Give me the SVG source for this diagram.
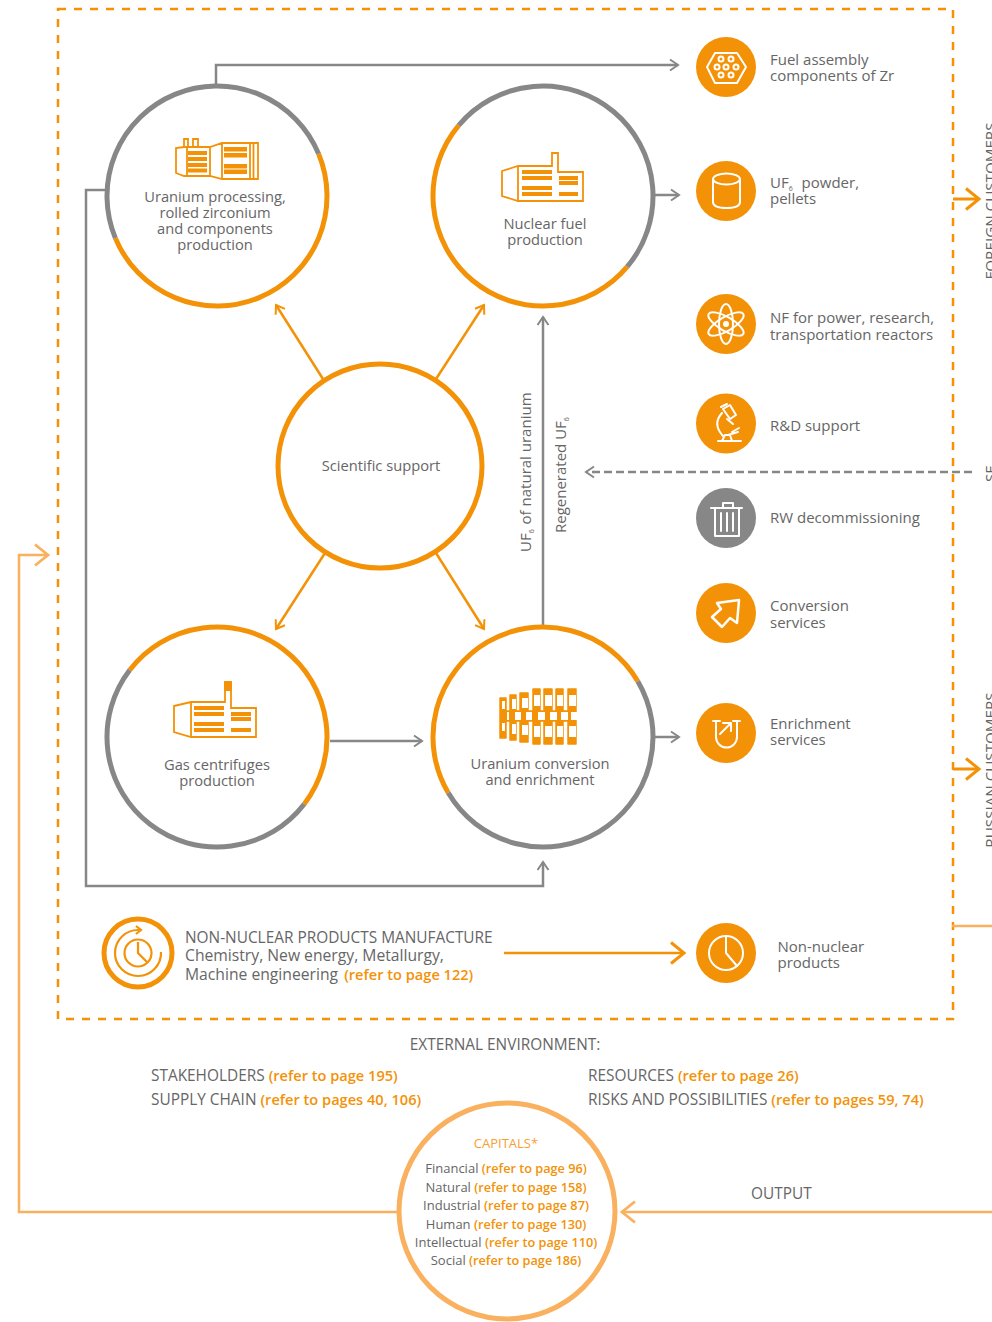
<svg xmlns="http://www.w3.org/2000/svg" width="992" height="1322" viewBox="0 0 992 1322">
<defs>
<style>
text{font-family:"Open Sans","Noto Sans","Liberation Sans",sans-serif;fill:#666;font-size:14.7px}
.m{text-anchor:middle}
.r{font-size:15px}
.u{font-size:15.4px}
.b{font-weight:600;fill:#f39207;font-size:14.6px}
.l{fill:#f7a035}
.c{font-size:13px}
.c .b{font-size:12.700px}
.s{font-size:7px}
.g{fill:none;stroke:#878787;stroke-width:2.5}
.o{fill:none;stroke:#f39207;stroke-width:2.5}
.lo{fill:none;stroke:#fab15f;stroke-width:2.5}
.ra{fill:none;stroke:#878787;stroke-width:5;stroke-dasharray:180 180}
.rb{fill:none;stroke:#f39207;stroke-width:5;stroke-dasharray:180 180}
.w{fill:none;stroke:#fff;stroke-width:2;stroke-linejoin:round;stroke-linecap:round}
.i{fill:none;stroke:#f39207;stroke-width:1.8}
.f{fill:#f39207}
</style>
<marker id="ag" markerUnits="userSpaceOnUse" markerWidth="14" markerHeight="14" refX="11" refY="7" orient="auto"><path d="M3 1.5L11 7L3 12.5" fill="none" stroke="#878787" stroke-width="2"/></marker>
<marker id="ao" markerUnits="userSpaceOnUse" markerWidth="14" markerHeight="14" refX="11" refY="7" orient="auto"><path d="M3 1.5L11 7L3 12.5" fill="none" stroke="#f39207" stroke-width="2"/></marker>
<marker id="aO" markerUnits="userSpaceOnUse" markerWidth="18" markerHeight="26" refX="15" refY="13" orient="auto"><path d="M2 2.5L15 13L2 23.5" fill="none" stroke="#f39207" stroke-width="3"/></marker>
<marker id="al" markerUnits="userSpaceOnUse" markerWidth="18" markerHeight="26" refX="15" refY="13" orient="auto"><path d="M2 2.5L15 13L2 23.5" fill="none" stroke="#fab15f" stroke-width="2.8"/></marker>
</defs>
<rect width="992" height="1322" fill="#fff"/>
<rect id="frame" x="58" y="9" width="895" height="1010" fill="none" stroke="#f39207" stroke-width="2.5" stroke-dasharray="8 8"/>

<g id="connectors">
<path class="g" d="M216 84V65H678" marker-end="url(#ag)"/>
<path class="g" d="M105 190H86V886H543V862" marker-end="url(#ag)"/>
<path class="g" d="M655 195H679" marker-end="url(#ag)"/>
<path class="g" d="M543 625V317" marker-end="url(#ag)"/>
<path class="g" d="M330 741H422" marker-end="url(#ag)"/>
<path class="g" d="M655 737H679" marker-end="url(#ag)"/>
<path class="g" d="M972 472H586" stroke-dasharray="8 4" marker-end="url(#ag)"/>
<path class="o" d="M323 379L276 305" marker-end="url(#ao)"/>
<path class="o" d="M436 379L484 305" marker-end="url(#ao)"/>
<path class="o" d="M325 553L276 629" marker-end="url(#ao)"/>
<path class="o" d="M436 553L484 629" marker-end="url(#ao)"/>
<path class="o" d="M504 953H684" marker-end="url(#aO)"/>
<path class="o" style="stroke-width:3" d="M953 199H979" marker-end="url(#aO)"/>
<path class="o" style="stroke-width:3" d="M953 769H979" marker-end="url(#aO)"/>
<path class="lo" d="M952 926H992"/>
<path class="lo" d="M992 1212H622" marker-end="url(#al)"/>
<path class="lo" d="M399 1212H19V555H48" marker-end="url(#al)"/>
</g>

<g id="uranium-processing">
<circle cx="217" cy="196" r="110" fill="#fff"/>
<circle class="rb" cx="217" cy="196" r="110" pathLength="360" transform="rotate(337.500 217 196)"/>
<circle class="ra" cx="217" cy="196" r="110" pathLength="360" transform="rotate(157.500 217 196)"/>
<path class="i" d="M176 148V173L184 176H210L222 179H258V143H222L210 147H184ZM184 147V139H188V147M193 147V139H198V147M187 147V176M210 147V176M222 143V179M250 143V179M253.500 143V179"/>
<path class="f" d="M188 151h19v4h-19zM188 157h19v4h-19zM188 163h19v4h-19zM188 168.500h19v4h-19zM224 147h23v4.500h-23zM224 153h23v4.500h-23zM224 164h23v4.500h-23zM224 169.500h23v4.500h-23z"/>
<text class="m" x="215" y="202">Uranium processing,</text>
<text class="m" x="215" y="218">rolled zirconium</text>
<text class="m" x="215" y="234">and components</text>
<text class="m" x="215" y="250">production</text>
</g>

<g id="nuclear-fuel">
<circle cx="543" cy="196" r="110" fill="#fff"/>
<circle class="rb" cx="543" cy="196" r="110" pathLength="360" transform="rotate(40 543 196)"/>
<circle class="ra" cx="543" cy="196" r="110" pathLength="360" transform="rotate(-140 543 196)"/>
<path class="i" d="M502 171L518 166H552V153H558V172H583V201H518L502 196ZM518 166V201"/>
<path class="f" d="M522 170h30v4h-30zM522 176h30v4h-30zM522 186h30v4h-30zM522 192h30v4h-30zM559 176h19v4h-19zM559 181h19v4h-19zM559 192h19v4h-19z"/>
<text class="m" x="545" y="229">Nuclear fuel</text>
<text class="m" x="545" y="245">production</text>
</g>

<g id="gas-centrifuges">
<circle cx="217" cy="737" r="110" fill="#fff"/>
<circle class="rb" cx="217" cy="737" r="110" pathLength="360" transform="rotate(217.500 217 737)"/>
<circle class="ra" cx="217" cy="737" r="110" pathLength="360" transform="rotate(37.500 217 737)"/>
<path class="i" d="M174 706L191 702H225V682H231V708H256V737H191L174 732ZM191 702V737"/>
<path class="f" d="M224 682h8v9h-8zM194 706h30v4h-30zM194 712h30v4h-30zM194 722h30v4h-30zM194 728h30v4h-30zM231 712h20v4h-20zM231 717h20v4h-20zM231 728h20v4h-20z"/>
<text class="m" x="217" y="770">Gas centrifuges</text>
<text class="m" x="217" y="786">production</text>
</g>

<g id="uranium-conversion">
<circle cx="543" cy="737" r="110" fill="#fff"/>
<circle class="rb" cx="543" cy="737" r="110" pathLength="360" transform="rotate(149.500 543 737)"/>
<circle class="ra" cx="543" cy="737" r="110" pathLength="360" transform="rotate(-30.500 543 737)"/>
<path class="f" stroke="#f39207" stroke-width="1.500" stroke-linejoin="round" d="M500 698h6v40h-6zM510 695h6v45h-6zM520 693h8v49h-8zM533 689h7v55h-7zM544 689h8v55h-8zM556 689h7v55h-7zM568 689h8v55h-8zM505 711h64v10h-64z"/>
<path d="M502 701h3v8h-3zM512 699h4v10h-4zM522 698h6v10h-6zM534 695h6v11h-6zM545 695h7v11h-7zM557 695h6v11h-6zM569 695h7v11h-7zM507 712h2v8h-2zM515 712h6v8h-6zM526 712h6v8h-6zM538 712h7v8h-7zM550 712h7v8h-7zM561 712h7v8h-7zM571 712h6v8h-6zM502 723h3v8h-3zM512 724h4v10h-4zM522 725h6v10h-6zM534 726h6v11h-6zM545 726h7v11h-7zM557 726h6v11h-6zM569 726h7v11h-7z" fill="#fff"/>
<text class="m" x="540" y="769">Uranium conversion</text>
<text class="m" x="540" y="785">and enrichment</text>
</g>

<g id="scientific-support">
<circle cx="380" cy="466" r="102" fill="#fff" stroke="#f39207" stroke-width="5"/>
<text class="m" x="381" y="471">Scientific support</text>
</g>

<g id="labels-vertical">
<text class="r" transform="translate(531 552) rotate(-90)">UF<tspan class="s" dy="3">6</tspan><tspan dy="-3" dx="1"> of natural uranium</tspan></text>
<text class="r" transform="translate(566 533) rotate(-90)">Regenerated UF<tspan class="s" dy="3">6</tspan></text>
</g>

<g id="fuel-assembly">
<circle class="f" cx="726" cy="67" r="30"/>
<path class="w" d="M707 67L715 53H737L746 67L737 83H715Z"/>
<g class="w" style="stroke-width:2"><circle cx="726" cy="67" r="2.500"/><circle cx="717" cy="67" r="2.500"/><circle cx="736" cy="67" r="2.500"/><circle cx="721" cy="59" r="2.500"/><circle cx="731" cy="59" r="2.500"/><circle cx="721" cy="75" r="2.500"/><circle cx="731" cy="75" r="2.500"/></g>
<text class="r" x="770" y="65">Fuel assembly</text><text class="r" x="770" y="81">components of Zr</text>
</g>
<g id="uf6-powder">
<circle class="f" cx="726" cy="191" r="30"/>
<path class="w" d="M713 180V202Q713 208 726.500 208T740 202V180"/><ellipse class="w" cx="726.500" cy="179" rx="13.500" ry="5.500"/>
<text class="r" x="770" y="188">UF<tspan class="s" dy="3">6</tspan><tspan dy="-3" dx="5"> powder,</tspan></text><text class="r" x="770" y="204">pellets</text>
</g>
<g id="nf-reactors">
<circle class="f" cx="726" cy="324" r="30"/>
<g class="w"><ellipse cx="726" cy="324" rx="7" ry="20"/><ellipse cx="726" cy="324" rx="7" ry="20" transform="rotate(60 726 324)"/><ellipse cx="726" cy="324" rx="7" ry="20" transform="rotate(-60 726 324)"/></g>
<circle cx="726" cy="324" r="3" fill="#fff"/>
<text class="r" x="770" y="323">NF for power, research,</text><text class="r" x="770" y="340">transportation reactors</text>
</g>
<g id="rd-support">
<circle class="f" cx="726" cy="423.500" r="30"/>
<path class="w" d="M718 441H741M722 441L725 435H730L732 441M723 436Q712 424 722 413M721 407L727 404M723 409L730 405L736 415L730 419ZM727 419L733 424M732 432L739 428M728 435L738 432"/>
<text class="r" x="770" y="431">R&amp;D support</text>
</g>
<g id="rw-decommissioning">
<circle cx="726" cy="518" r="30" fill="#878787"/>
<path class="w" d="M711 508H742M723 508V503H733V508M715 508V536H739V508M721 513V531M727 513V531M733 513V531"/>
<text class="r" x="770" y="523">RW decommissioning</text>
</g>
<g id="conversion-services">
<circle class="f" cx="726" cy="613" r="30"/>
<path class="w" style="stroke-width:2.500" d="M717 603L739 600L737 623L730 618L722 627L712 617L721 609Z"/>
<text class="r" x="770" y="611">Conversion</text><text class="r" x="770" y="628">services</text>
</g>
<g id="enrichment-services">
<circle class="f" cx="726" cy="733" r="30"/>
<path class="w" d="M713 721H720M733 721H740M716 721V737A10.500 10.500 0 0 0 737 737V721M720 734L731 723M723 723H731V731"/>
<text class="r" x="770" y="729">Enrichment</text><text class="r" x="770" y="745">services</text>
</g>
<g id="non-nuclear-products">
<circle class="f" cx="726" cy="953" r="30"/>
<circle class="w" cx="726" cy="953" r="17"/><path class="w" d="M726 936V953L737 966"/>
<text class="r" x="777.500" y="952">Non-nuclear</text><text class="r" x="777.500" y="968">products</text>
</g>
<g id="non-nuclear-manufacture">
<circle cx="138" cy="953" r="34" fill="none" stroke="#f39207" stroke-width="5"/>
<circle cx="138" cy="953" r="13.500" fill="none" stroke="#f39207" stroke-width="2.200"/>
<path d="M138 942V953L147 962M161 952A23 23 0 1 1 139 930M136 926L141 930L136 934" fill="none" stroke="#f39207" stroke-width="2.200"/>
<text class="u" x="185" y="943">NON-NUCLEAR PRODUCTS MANUFACTURE</text>
<text class="u" x="185" y="961" style="font-size:15.700px">Chemistry, New energy, Metallurgy,</text>
<text class="u" x="185" y="980" style="font-size:15.700px">Machine engineering <tspan class="b" dx="2">(refer to page 122)</tspan></text>
</g>

<g id="side-labels">
<text class="m" style="font-size:15.200px" transform="translate(996 201) rotate(-90)">FOREIGN CUSTOMERS</text>
<text class="m" style="font-size:15.200px" transform="translate(996 474) rotate(-90)">SF</text>
<text class="m" style="font-size:15.200px" transform="translate(996 770) rotate(-90)">RUSSIAN CUSTOMERS</text>
</g>

<g id="external">
<text class="m u" x="505" y="1050">EXTERNAL ENVIRONMENT:</text>
<text class="u" x="151" y="1081">STAKEHOLDERS <tspan class="b">(refer to page 195)</tspan></text>
<text class="u" x="151" y="1105">SUPPLY CHAIN <tspan class="b">(refer to pages 40, 106)</tspan></text>
<text class="u" x="588" y="1081">RESOURCES <tspan class="b">(refer to page 26)</tspan></text>
<text class="u" x="588" y="1105">RISKS AND POSSIBILITIES <tspan class="b">(refer to pages 59, 74)</tspan></text>
<text class="u" x="751" y="1199">OUTPUT</text>
</g>

<g id="capitals">
<circle cx="507" cy="1211" r="108" fill="#fff" stroke="#fab15f" stroke-width="5"/>
<text class="m c l" x="506" y="1148">CAPITALS*</text>
<text class="m c" x="506" y="1173">Financial <tspan class="b">(refer to page 96)</tspan></text>
<text class="m c" x="506" y="1192">Natural <tspan class="b">(refer to page 158)</tspan></text>
<text class="m c" x="506" y="1210">Industrial <tspan class="b">(refer to page 87)</tspan></text>
<text class="m c" x="506" y="1229">Human <tspan class="b">(refer to page 130)</tspan></text>
<text class="m c" x="506" y="1247">Intellectual <tspan class="b">(refer to page 110)</tspan></text>
<text class="m c" x="506" y="1265">Social <tspan class="b">(refer to page 186)</tspan></text>
</g>
</svg>
